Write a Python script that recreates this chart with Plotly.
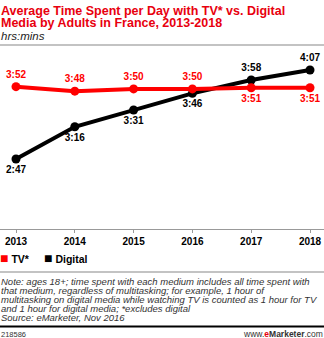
import plotly.graph_objects as go

# ---- data ----
years = [2013, 2014, 2015, 2016, 2017, 2018]
tv_labels = ["3:52", "3:48", "3:50", "3:50", "3:51", "3:51"]
digital_labels = ["2:47", "3:16", "3:31", "3:46", "3:58", "4:07"]
tick_labels = ["2013", "2014", "2015", "2016", "2017", "2018"]
series_names = ["TV*", "Digital"]


def to_minutes(s):
    h, m = s.split(":")
    return int(h) * 60 + int(m)


tv_minutes = [to_minutes(s) for s in tv_labels]
digital_minutes = [to_minutes(s) for s in digital_labels]

# ---- style ----
RED = "#ff0000"
TITLE_RED = "#e8000e"
BLACK = "#000000"
W, H = 324, 338
T, B = 48, 229  # plot area top / bottom (px)
PH = B - T


def py(p):
    return (B - p) / PH


def px(p):
    return p / W


tv_pos = ["top center"] * 4 + ["bottom center"] * 2
dg_pos = ["bottom center"] * 4 + ["top center"] * 2

fig = go.Figure()
fig.add_trace(go.Scatter(
    x=years, y=digital_minutes, mode="lines+markers+text",
    text=digital_labels, textposition=dg_pos,
    textfont=dict(family="Liberation Sans", size=10, color=BLACK, weight="bold"),
    line=dict(color=BLACK, width=4), marker=dict(color=BLACK, size=9),
    name=series_names[1], showlegend=False, cliponaxis=False, hoverinfo="skip",
))
fig.add_trace(go.Scatter(
    x=years, y=tv_minutes, mode="lines+markers+text",
    text=tv_labels, textposition=tv_pos,
    textfont=dict(family="Liberation Sans", size=10, color=RED, weight="bold"),
    line=dict(color=RED, width=4), marker=dict(color=RED, size=9),
    name=series_names[0], showlegend=False, cliponaxis=False, hoverinfo="skip",
))

annotations = []


def ann(text, x, y, size, color="#000", bold=False, italic=False, xanchor="left", family="Liberation Sans"):
    annotations.append(dict(
        text=text, x=px(x), y=py(y), xref="paper", yref="paper",
        xanchor=xanchor, yanchor="middle", showarrow=False,
        font=dict(family=family, size=size, color=color,
                  weight="bold" if bold else "normal",
                  style="italic" if italic else "normal"),
    ))


ann("Average Time Spent per Day with TV* vs. Digital", -1, 11, 12.5, TITLE_RED, bold=True)
ann("Media by Adults in France, 2013-2018", -1, 23, 12.5, TITLE_RED, bold=True)
ann("hrs:mins", -1, 36, 11.5, "#222", italic=True)

# legend
SQ = "<span style='color:%s;font-size:14px'>■</span> %s"
ann(SQ % (RED, series_names[0]), -2, 257.5, 10.5, "#000", bold=True)
ann(SQ % (BLACK, series_names[1]), 42, 257.5, 10.5, "#000", bold=True)

notes = [
    "Note: ages 18+; time spent with each medium includes all time spent with",
    "that medium, regardless of multitasking; for example, 1 hour of",
    "multitasking on digital media while watching TV is counted as 1 hour for TV",
    "and 1 hour for digital media; *excludes digital",
    "Source: eMarketer, Nov 2016",
]
for i, line in enumerate(notes):
    ann(line, -1, 281.5 + i * 9.1, 9.5, "#333", italic=True)

ann("218586", -1, 334, 7.5, "#333")
ann("www.<span style='color:#e8000e'><b>e</b></span><b>Marketer</b>.com", 325, 334, 8.5, "#333", xanchor="right")

shapes = [
    dict(type="line", xref="paper", yref="paper", x0=0, x1=1, y0=py(45), y1=py(45),
         line=dict(color="#888", width=1.2)),
    dict(type="line", xref="paper", yref="paper", x0=0, x1=1, y0=py(272), y1=py(272),
         line=dict(color="#888", width=1.2)),
    dict(type="line", xref="paper", yref="paper", x0=0, x1=1, y0=py(326.5), y1=py(326.5),
         line=dict(color="#000", width=2)),
]

x_lo = 2013 - 16 / 58.8
x_hi = 2018 + 14 / 58.8
y_lo = 167 - (229 - 159) / 1.1125
y_hi = 247 + (70 - T) / 1.1125

fig.update_layout(
    width=W, height=H,
    margin=dict(l=0, r=0, t=T, b=H - B, pad=0),
    paper_bgcolor="white", plot_bgcolor="white",
    xaxis=dict(range=[x_lo, x_hi], tickvals=years, ticktext=tick_labels,
               showgrid=False, zeroline=False, showline=True, linecolor="#999", linewidth=1,
               ticks="outside", ticklen=3, tickcolor="#999",
               tickfont=dict(family="Liberation Sans", size=10, color="#000", weight="bold"),
               fixedrange=True),
    yaxis=dict(range=[y_lo, y_hi], visible=False, showgrid=False, zeroline=False, fixedrange=True),
    annotations=annotations, shapes=shapes, showlegend=False,
)

fig.write_html("out.html", config={"displayModeBar": False})
